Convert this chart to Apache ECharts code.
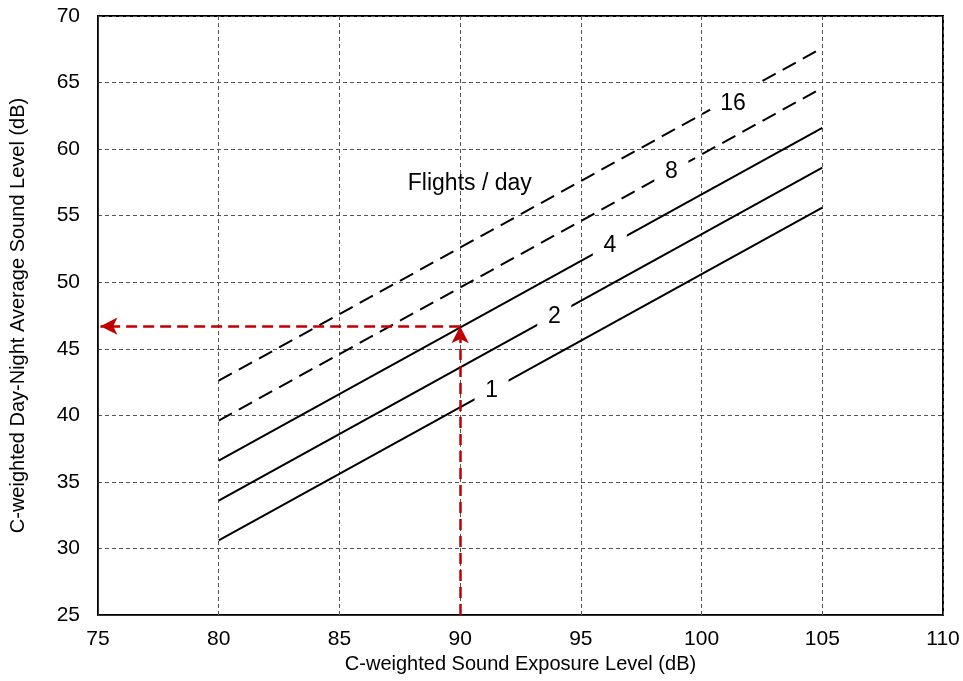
<!DOCTYPE html>
<html>
<head>
<meta charset="utf-8">
<script src="https://cdn.jsdelivr.net/npm/echarts@6/dist/echarts.min.js"></script>
<style>
  html, body { margin: 0; padding: 0; background: #fff; }
  #chart { width: 963px; height: 681px; }
</style>
</head>
<body>
<div id="chart"></div>
<script>
// CSEL range covered by each flights-per-day line (dB)
const csel = [80, 105];
// CDNL at the two CSEL end points, one array per number of daily flights (dB)
const flights1 = [30.6, 55.6];
const flights2 = [33.6, 58.6];
const flights4 = [36.6, 61.6];
const flights8 = [39.6, 64.6];
const flights16 = [42.6, 67.6];
const flightCounts = ['1', '2', '4', '8', '16'];
// CSEL at which each line carries its flight-count label
const labelCsel = [91.3, 93.9, 96.2, 98.75, 101.3];
// Worked example: reading CDNL from a CSEL of 90 dB on the 4-flight line
const exampleCsel = 90;
const exampleCdnl = 46.7;
const xTicks = { min: 75, max: 110, step: 5 };
const yTicks = { min: 25, max: 70, step: 5 };

const FONT = '"Liberation Sans", Arial, sans-serif';
const lineSets = [flights1, flights2, flights4, flights8, flights16];

function yAt(arr, x) {
  const t = (x - csel[0]) / (csel[1] - csel[0]);
  return arr[0] + t * (arr[1] - arr[0]);
}

const series = lineSets.map((arr, i) => {
  const dashed = i >= 3;
  const text = flightCounts[i];
  return {
    type: 'line',
    name: text,
    data: csel.map((x, k) => [x, arr[k]]),
    symbol: 'none',
    silent: true,
    z: 3,
    lineStyle: {
      color: '#000',
      width: 2,
      type: dashed ? [15, 8] : 'solid'
    },
    markPoint: {
      silent: true,
      symbol: 'rect',
      symbolSize: [text.length > 1 ? 46 : 34, 26],
      itemStyle: { color: '#fff' },
      label: {
        show: true,
        position: 'inside',
        offset: [0, text.length > 1 ? 6 : 1],
        formatter: text,
        color: '#000',
        fontFamily: FONT,
        fontSize: 23
      },
      data: [{ coord: [labelCsel[i], yAt(arr, labelCsel[i])] }]
    }
  };
});

// caption for the family of lines
series.push({
  type: 'scatter',
  name: 'Flights / day',
  data: [[90.4, 57.4]],
  symbolSize: 1,
  silent: true,
  itemStyle: { color: '#fff', opacity: 1 },
  label: {
    show: true,
    position: 'inside',
    formatter: 'Flights / day',
    color: '#000',
    fontFamily: FONT,
    fontSize: 23
  }
});

// red dashed reading arrows
series.push({
  type: 'line',
  name: 'example',
  data: [],
  silent: true,
  markLine: {
    silent: true,
    animation: false,
    symbol: ['none', 'arrow'],
    symbolSize: [13, 17],
    label: { show: false },
    lineStyle: { color: '#c00000', width: 2.5, type: [11, 6] },
    data: [
      [{ coord: [exampleCsel, yTicks.min] }, { coord: [exampleCsel, exampleCdnl] }],
      [{ coord: [exampleCsel, exampleCdnl] }, { coord: [xTicks.min + 0.1, exampleCdnl] }]
    ]
  }
});

const splitLine = {
  show: true,
  lineStyle: { color: '#555', width: 1, type: [4, 3] }
};

const chart = echarts.init(document.getElementById('chart'), null, { renderer: 'canvas' });
chart.setOption({
  animation: false,
  backgroundColor: '#fff',
  grid: {
    left: 98, right: 20, top: 16, bottom: 66,
    show: true,
    borderColor: '#000',
    borderWidth: 2,
    backgroundColor: 'rgba(0,0,0,0)'
  },
  xAxis: {
    type: 'value',
    min: xTicks.min, max: xTicks.max, interval: xTicks.step,
    name: 'C-weighted Sound Exposure Level (dB)',
    nameLocation: 'middle',
    nameGap: 39,
    nameTextStyle: { color: '#000', fontFamily: FONT, fontSize: 20 },
    axisLine: { show: true, lineStyle: { color: '#333', width: 1 } },
    axisTick: { show: false },
    axisLabel: { color: '#000', fontFamily: FONT, fontSize: 21, margin: 14 },
    splitLine: splitLine
  },
  yAxis: {
    type: 'value',
    min: yTicks.min, max: yTicks.max, interval: yTicks.step,
    name: 'C-weighted Day-Night Average Sound Level (dB)',
    nameLocation: 'middle',
    nameGap: 70,
    nameTextStyle: { color: '#000', fontFamily: FONT, fontSize: 20 },
    axisLine: { show: true, lineStyle: { color: '#333', width: 1 } },
    axisTick: { show: false },
    axisLabel: { color: '#000', fontFamily: FONT, fontSize: 21, margin: 18 },
    splitLine: splitLine
  },
  series: series
});
</script>
</body>
</html>
